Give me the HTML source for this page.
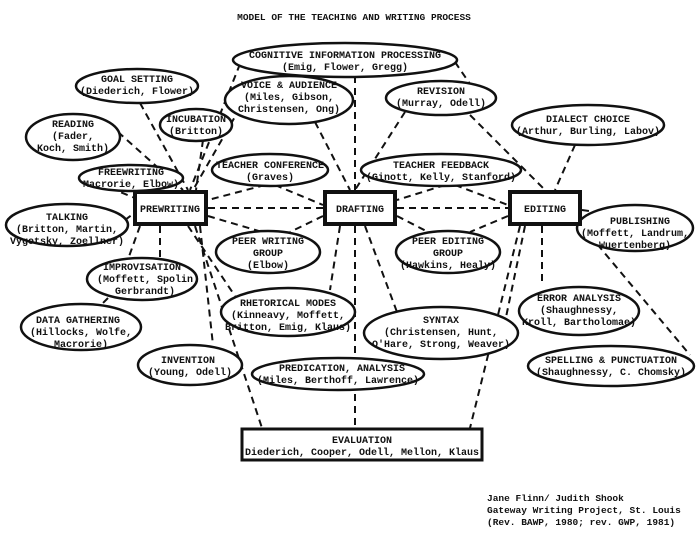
<!DOCTYPE html>
<html><head><meta charset="utf-8"><style>
html,body{margin:0;padding:0;background:#fff;width:700px;height:536px;overflow:hidden}
svg text{font-family:"Liberation Mono",monospace;font-weight:bold;font-size:10px;fill:#111;text-anchor:middle}
</style></head><body>
<svg width="700" height="536" viewBox="0 0 700 536" xmlns="http://www.w3.org/2000/svg">
<g stroke="#111" stroke-width="2" stroke-dasharray="7,5" fill="none">
<line x1="140" y1="103" x2="188" y2="190"/>
<line x1="118" y1="132" x2="183" y2="190"/>
<line x1="203" y1="140" x2="196" y2="190"/>
<line x1="240" y1="108" x2="193" y2="190"/>
<line x1="240" y1="64" x2="190" y2="190"/>
<line x1="315" y1="122" x2="350" y2="190"/>
<line x1="355" y1="76" x2="355" y2="190"/>
<line x1="355" y1="226" x2="355" y2="428"/>
<line x1="455" y1="62" x2="470" y2="84"/>
<line x1="470" y1="115" x2="545" y2="190"/>
<line x1="405" y1="112" x2="355" y2="190"/>
<line x1="575" y1="145" x2="555" y2="190"/>
<line x1="110" y1="188" x2="135" y2="198"/>
<line x1="125" y1="220" x2="133" y2="214"/>
<line x1="265" y1="185" x2="208" y2="200"/>
<line x1="275" y1="185" x2="323" y2="205"/>
<line x1="445" y1="185" x2="397" y2="200"/>
<line x1="455" y1="185" x2="508" y2="205"/>
<line x1="208" y1="208" x2="323" y2="208"/>
<line x1="397" y1="208" x2="508" y2="208"/>
<line x1="208" y1="216" x2="262" y2="232"/>
<line x1="323" y1="216" x2="290" y2="232"/>
<line x1="397" y1="216" x2="432" y2="234"/>
<line x1="508" y1="216" x2="470" y2="232"/>
<line x1="582" y1="210" x2="610" y2="214"/>
<line x1="542" y1="226" x2="542" y2="286"/>
<line x1="525" y1="226" x2="505" y2="322"/>
<line x1="520" y1="226" x2="470" y2="428"/>
<line x1="582" y1="226" x2="690" y2="355"/>
<line x1="160" y1="226" x2="160" y2="258"/>
<line x1="140" y1="226" x2="127" y2="262"/>
<line x1="108" y1="298" x2="100" y2="306"/>
<line x1="200" y1="226" x2="213" y2="345"/>
<line x1="188" y1="226" x2="235" y2="296"/>
<line x1="195" y1="226" x2="262" y2="428"/>
<line x1="340" y1="226" x2="330" y2="290"/>
<line x1="365" y1="226" x2="397" y2="312"/>
</g>
<g stroke="#111" stroke-width="2.5" fill="#fff">
<ellipse cx="345" cy="60" rx="112" ry="17"/>
<ellipse cx="137" cy="86" rx="61" ry="17"/>
<ellipse cx="289" cy="100" rx="64" ry="24"/>
<ellipse cx="196" cy="125" rx="36" ry="16"/>
<ellipse cx="73" cy="137" rx="47" ry="23"/>
<ellipse cx="441" cy="98" rx="55" ry="17"/>
<ellipse cx="588" cy="125" rx="76" ry="20"/>
<ellipse cx="270" cy="170" rx="58" ry="16"/>
<ellipse cx="131" cy="178" rx="52" ry="13"/>
<ellipse cx="441" cy="170" rx="80" ry="16"/>
<ellipse cx="67" cy="225" rx="61" ry="21"/>
<ellipse cx="635" cy="228" rx="58" ry="23"/>
<ellipse cx="268" cy="252" rx="52" ry="21"/>
<ellipse cx="448" cy="252" rx="52" ry="21"/>
<ellipse cx="142" cy="279" rx="55" ry="21"/>
<ellipse cx="81" cy="327" rx="60" ry="23"/>
<ellipse cx="288" cy="312" rx="67" ry="24"/>
<ellipse cx="579" cy="311" rx="60" ry="24"/>
<ellipse cx="441" cy="333" rx="77" ry="26"/>
<ellipse cx="190" cy="365" rx="52" ry="20"/>
<ellipse cx="338" cy="374" rx="86" ry="16"/>
<ellipse cx="611" cy="366" rx="83" ry="20"/>
</g>
<g stroke="#111" fill="#fff">
<rect x="135" y="192" width="71" height="32" stroke-width="4"/>
<rect x="325" y="192" width="70" height="32" stroke-width="4"/>
<rect x="510" y="192" width="70" height="32" stroke-width="4"/>
<rect x="242" y="429" width="240" height="31" stroke-width="3"/>
</g>
<text x="354" y="20" style="font-size:9.5px">MODEL OF THE TEACHING AND WRITING PROCESS</text>
<text x="345" y="58">COGNITIVE INFORMATION PROCESSING</text>
<text x="345" y="70">(Emig, Flower, Gregg)</text>
<text x="137" y="82">GOAL SETTING</text>
<text x="137" y="94">(Diederich, Flower)</text>
<text x="289" y="88">VOICE &amp; AUDIENCE</text>
<text x="289" y="100">(Miles, Gibson,</text>
<text x="289" y="112">Christensen, Ong)</text>
<text x="196" y="122">INCUBATION</text>
<text x="196" y="134">(Britton)</text>
<text x="73" y="127">READING</text>
<text x="73" y="139">(Fader,</text>
<text x="73" y="151">Koch, Smith)</text>
<text x="441" y="94">REVISION</text>
<text x="441" y="106">(Murray, Odell)</text>
<text x="588" y="122">DIALECT CHOICE</text>
<text x="588" y="134">(Arthur, Burling, Labov)</text>
<text x="270" y="168">TEACHER CONFERENCE</text>
<text x="270" y="180">(Graves)</text>
<text x="131" y="175">FREEWRITING</text>
<text x="131" y="187">Macrorie, Elbow)</text>
<text x="441" y="168">TEACHER FEEDBACK</text>
<text x="441" y="180">(Ginott, Kelly, Stanford)</text>
<text x="170" y="212">PREWRITING</text>
<text x="360" y="212">DRAFTING</text>
<text x="545" y="212">EDITING</text>
<text x="67" y="220">TALKING</text>
<text x="67" y="232">(Britton, Martin,</text>
<text x="67" y="244">Vygotsky, Zoellner)</text>
<text x="640" y="224">PUBLISHING</text>
<text x="635" y="236">(Moffett, Landrum,</text>
<text x="635" y="248">Wuertenberg)</text>
<text x="268" y="244">PEER WRITING</text>
<text x="268" y="256">GROUP</text>
<text x="268" y="268">(Elbow)</text>
<text x="448" y="244">PEER EDITING</text>
<text x="448" y="256">GROUP</text>
<text x="448" y="268">(Hawkins, Healy)</text>
<text x="142" y="270">IMPROVISATION</text>
<text x="145" y="282">(Moffett, Spolin</text>
<text x="145" y="294">Gerbrandt)</text>
<text x="78" y="323">DATA GATHERING</text>
<text x="81" y="335">(Hillocks, Wolfe,</text>
<text x="81" y="347">Macrorie)</text>
<text x="288" y="306">RHETORICAL MODES</text>
<text x="288" y="318">(Kinneavy, Moffett,</text>
<text x="288" y="330">Britton, Emig, Klaus)</text>
<text x="579" y="301">ERROR ANALYSIS</text>
<text x="579" y="313">(Shaughnessy,</text>
<text x="579" y="325">Kroll, Bartholomae)</text>
<text x="441" y="323">SYNTAX</text>
<text x="441" y="335">(Christensen, Hunt,</text>
<text x="441" y="347">O'Hare, Strong, Weaver)</text>
<text x="188" y="363">INVENTION</text>
<text x="190" y="375">(Young, Odell)</text>
<text x="342" y="371">PREDICATION, ANALYSIS</text>
<text x="338" y="383">(Miles, Berthoff, Lawrence)</text>
<text x="611" y="363">SPELLING &amp; PUNCTUATION</text>
<text x="611" y="375">(Shaughnessy, C. Chomsky)</text>
<text x="362" y="443">EVALUATION</text>
<text x="362" y="455">(Diederich, Cooper, Odell, Mellon, Klaus)</text>
<text x="487" y="501" style="text-anchor:start;font-size:9.5px">Jane Flinn/ Judith Shook</text>
<text x="487" y="513" style="text-anchor:start;font-size:9.5px">Gateway Writing Project, St. Louis</text>
<text x="487" y="525" style="text-anchor:start;font-size:9.5px">(Rev. BAWP, 1980; rev. GWP, 1981)</text>
</svg>
</body></html>
